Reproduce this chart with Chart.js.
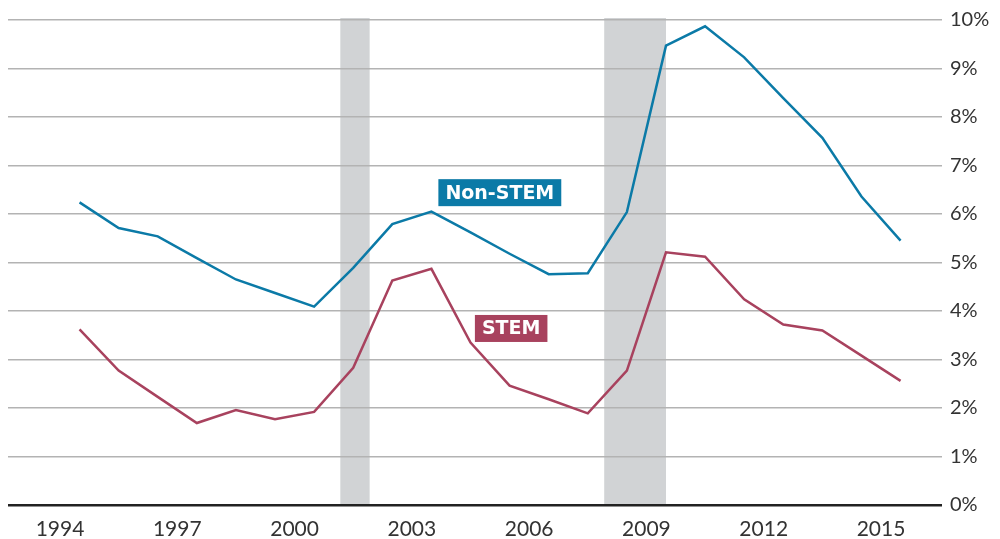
<!DOCTYPE html>
<html lang="en">
<head>
    <meta charset="UTF-8">
    <title>STEM vs Non-STEM</title>
    <script src="https://cdn.jsdelivr.net/npm/chart.js"></script>
    <style>
        body {
            margin: 0;
            background-color: #ffffff;
        }

        .chart-wrap {
            position: relative;
            width: 1000px;
            height: 539px;
        }
    </style>
</head>
<body>
    <div class="chart-wrap">
        <canvas id="rateChart"></canvas>
    </div>

    <script>
        // Years (annual averages, plotted at mid-year)
        const years = [1994, 1995, 1996, 1997, 1998, 1999, 2000, 2001, 2002, 2003, 2004,
                       2005, 2006, 2007, 2008, 2009, 2010, 2011, 2012, 2013, 2014, 2015];

        const nonStem = [6.24, 5.71, 5.54, 5.09, 4.65, 4.37, 4.09, 4.89, 5.79, 6.05, 5.62,
                         5.18, 4.76, 4.78, 6.04, 9.47, 9.87, 9.23, 8.39, 7.57, 6.36, 5.45];

        const stem = [3.62, 2.77, 2.23, 1.69, 1.96, 1.77, 1.92, 2.83, 4.63, 4.87, 3.35,
                      2.46, 2.18, 1.89, 2.77, 5.21, 5.12, 4.24, 3.72, 3.60, 3.08, 2.56];

        const xTickYears = [1994, 1997, 2000, 2003, 2006, 2009, 2012, 2015];
        const yTicks = [0, 1, 2, 3, 4, 5, 6, 7, 8, 9, 10];

        // Recessions (Mar-Nov 2001, Dec 2007-Jun 2009)
        const recessionStart = [2001.17, 2007.92];
        const recessionEnd = [2001.92, 2009.5];

        // Series labels
        const labelTexts = ['Non-STEM', 'STEM'];
        const labelYears = [2005.25, 2005.54];
        const labelValues = [6.44, 3.64];

        const blue = '#0b7aa7';
        const red = '#a8425e';
        const labelColors = [blue, red];

        const recessionPlugin = {
            id: 'recessions',
            beforeDraw(chart) {
                const { ctx, chartArea, scales } = chart;
                ctx.save();
                ctx.fillStyle = '#d1d3d5';
                for (let i = 0; i < recessionStart.length; i++) {
                    const x1 = scales.x.getPixelForValue(recessionStart[i]);
                    const x2 = scales.x.getPixelForValue(recessionEnd[i]);
                    ctx.fillRect(x1, chartArea.top - 2, x2 - x1, chartArea.bottom - chartArea.top + 2);
                }
                ctx.restore();
            }
        };

        const labelPlugin = {
            id: 'seriesLabels',
            afterDatasetsDraw(chart) {
                const { ctx, scales } = chart;
                ctx.save();
                ctx.font = 'bold 19px "DejaVu Sans"';
                ctx.textAlign = 'center';
                ctx.textBaseline = 'middle';
                for (let i = 0; i < labelTexts.length; i++) {
                    const cx = scales.x.getPixelForValue(labelYears[i]);
                    const cy = scales.y.getPixelForValue(labelValues[i]);
                    const w = ctx.measureText(labelTexts[i]).width + 14;
                    const h = 27;
                    ctx.fillStyle = labelColors[i];
                    ctx.fillRect(cx - w / 2, cy - h / 2, w, h);
                    ctx.fillStyle = '#ffffff';
                    ctx.fillText(labelTexts[i], cx, cy + 1);
                }
                ctx.restore();
            }
        };

        new Chart(document.getElementById('rateChart'), {
            type: 'line',
            data: {
                datasets: [
                    {
                        label: 'Non-STEM',
                        data: years.map((y, i) => ({ x: y + 0.5, y: nonStem[i] })),
                        borderColor: blue,
                        borderWidth: 2.5,
                        pointRadius: 0,
                        tension: 0,
                        fill: false
                    },
                    {
                        label: 'STEM',
                        data: years.map((y, i) => ({ x: y + 0.5, y: stem[i] })),
                        borderColor: red,
                        borderWidth: 2.5,
                        pointRadius: 0,
                        tension: 0,
                        fill: false
                    }
                ]
            },
            options: {
                responsive: true,
                maintainAspectRatio: false,
                animation: false,
                layout: {
                    padding: { left: 8, top: 17, right: 0, bottom: 0 }
                },
                plugins: {
                    legend: { display: false },
                    tooltip: { enabled: false }
                },
                scales: {
                    x: {
                        type: 'linear',
                        min: 1992.67,
                        max: 2016.56,
                        afterBuildTicks(scale) {
                            scale.ticks = xTickYears.map(v => ({ value: v }));
                        },
                        afterFit(scale) {
                            scale.height = 34;
                        },
                        grid: { display: false, drawTicks: false },
                        border: { display: false },
                        ticks: {
                            autoSkip: false,
                            maxRotation: 0,
                            padding: 12,
                            color: '#333333',
                            font: { family: 'Lato', size: 21 },
                            callback: v => String(v)
                        }
                    },
                    y: {
                        position: 'right',
                        min: 0,
                        max: 10,
                        afterBuildTicks(scale) {
                            scale.ticks = yTicks.map(v => ({ value: v }));
                        },
                        afterFit(scale) {
                            scale.width = 58;
                        },
                        border: { display: false },
                        grid: {
                            drawTicks: false,
                            color: ctx => ctx.tick && ctx.tick.value === 0 ? '#222222' : '#b3b3b3',
                            lineWidth: ctx => ctx.tick && ctx.tick.value === 0 ? 2.5 : 1.5
                        },
                        ticks: {
                            padding: 8,
                            color: '#333333',
                            font: { family: 'Lato', size: 20 },
                            callback: v => v + '%'
                        }
                    }
                }
            },
            plugins: [recessionPlugin, labelPlugin]
        });
    </script>
</body>
</html>
